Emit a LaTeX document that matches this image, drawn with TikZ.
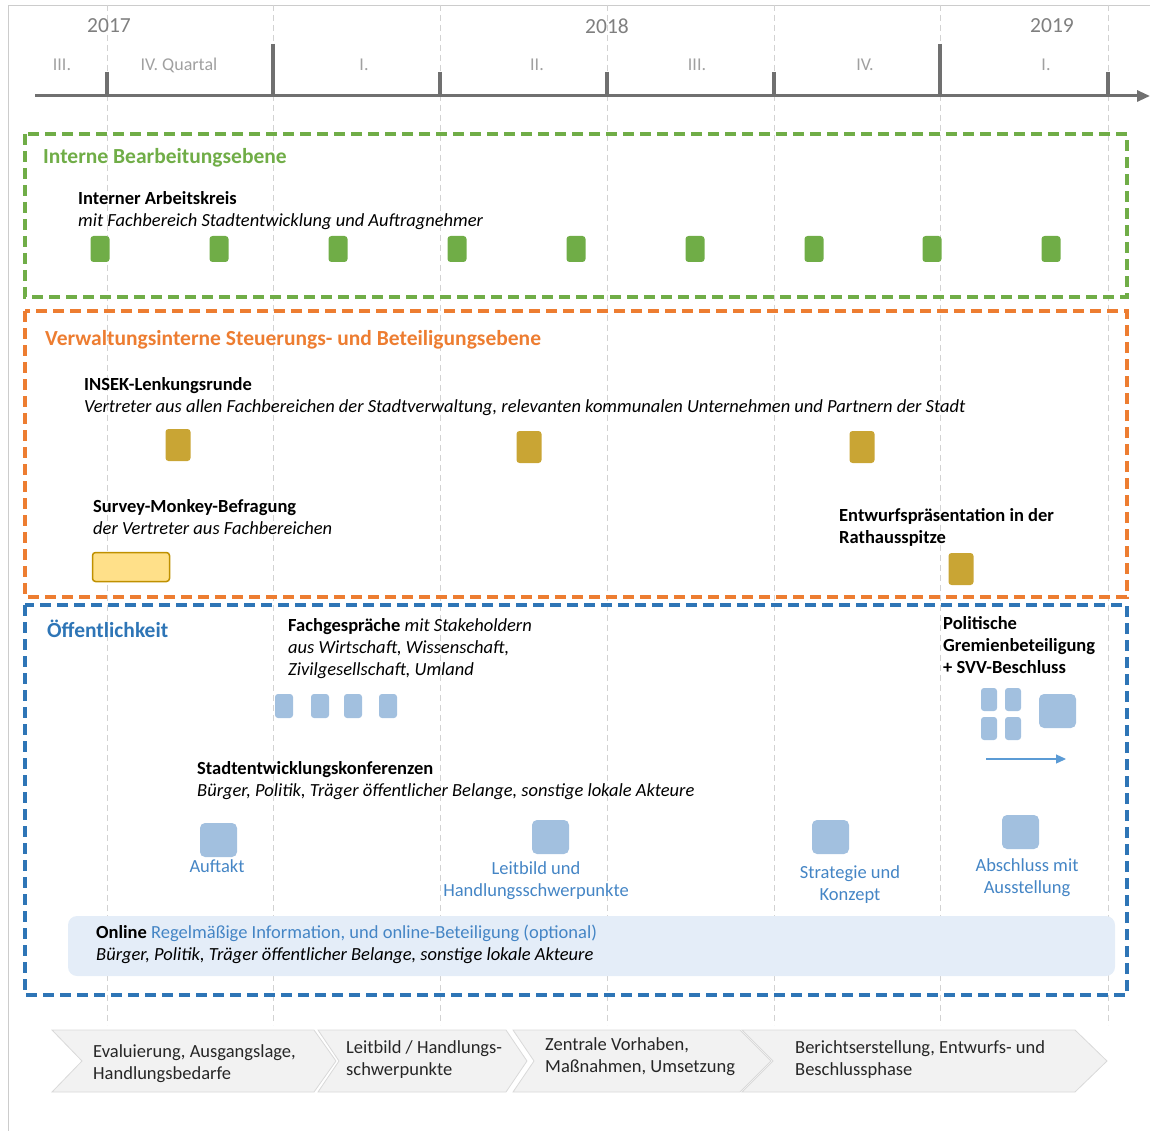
\documentclass[tikz,border=0pt]{standalone}
\usepackage{fontspec}
\setmainfont{Carlito}
\usetikzlibrary{arrows.meta, positioning}

\definecolor{gruen}{RGB}{112,173,71}
\definecolor{orange}{RGB}{237,125,49}
\definecolor{blau}{RGB}{46,117,182}
\definecolor{gold}{RGB}{201,165,52}
\definecolor{goldrand}{RGB}{191,144,0}
\definecolor{hellgelb}{RGB}{255,224,137}
\definecolor{hellblau}{RGB}{162,192,223}
\definecolor{labelblau}{RGB}{68,133,197}
\definecolor{bandblau}{RGB}{228,237,248}
\definecolor{pfeilblau}{RGB}{91,155,213}
\definecolor{achsgrau}{RGB}{112,112,112}
\definecolor{jahrgrau}{RGB}{127,127,127}
\definecolor{quartgrau}{RGB}{160,160,160}
\definecolor{phasegrau}{RGB}{242,242,242}
\definecolor{phaserand}{RGB}{217,217,217}
\definecolor{textgrau}{RGB}{38,38,38}

\begin{document}
\begin{tikzpicture}[
    x=1pt, y=-1pt,
    inner sep=0pt,
    font=\fontsize{18.5}{22}\selectfont
  ]

  % Styles
  \tikzstyle{raster}=[draw=gray!35, line width=0.8pt, dash pattern=on 6pt off 4pt]
  \tikzstyle{ebene}=[line width=3.2pt, dash pattern=on 11pt off 6pt]
  \tikzstyle{strich}=[draw=achsgrau, line width=4pt]
  \tikzstyle{jahr}=[text=jahrgrau, font=\fontsize{21.5}{24}\selectfont]
  \tikzstyle{quartal}=[text=quartgrau, font=\fontsize{18}{22}\selectfont]
  \tikzstyle{titel}=[anchor=north west, font=\fontsize{21.5}{24}\selectfont\bfseries]
  \tikzstyle{info}=[anchor=north west, align=left]
  \tikzstyle{termin}=[rounded corners=3pt, inner sep=0pt]
  \tikzstyle{arbeitskreis}=[termin, fill=gruen, minimum width=19pt, minimum height=26pt]
  \tikzstyle{lenkung}=[termin, fill=gold, minimum width=25pt, minimum height=32pt]
  \tikzstyle{fachgespraech}=[termin, fill=hellblau, minimum width=18pt, minimum height=24pt]
  \tikzstyle{gremium}=[termin, fill=hellblau, minimum width=16pt, minimum height=23pt]
  \tikzstyle{konferenz}=[termin, rounded corners=5pt, fill=hellblau, minimum width=37pt, minimum height=34pt]
  \tikzstyle{konftext}=[anchor=north, align=center, text=labelblau]
  \tikzstyle{phase}=[fill=phasegrau, draw=phaserand, line width=0.8pt]
  \tikzstyle{phasetext}=[anchor=north west, align=left, text=textgrau]

  \useasboundingbox (0,0) rectangle (1150,1131);

  % Frame and grid
  \draw[gray!40, line width=0.8pt] (8,1131) -- (8,5) -- (1150,5);
  \foreach \x in {107,273,440,607,774,940,1108}
    \draw[raster] (\x,5) -- (\x,1025);

  % Timeline
  \coordinate (achseA) at (35,96);
  \coordinate (achseB) at (1150,96);
  \draw[achsgrau, line width=3pt, -{Triangle[length=13pt,width=11pt]}] (achseA) -- (achseB);
  \foreach \x in {107,440,607,774,1108}
    \draw[strich] (\x,72) -- (\x,96);
  \foreach \x in {273,940}
    \draw[strich] (\x,44) -- (\x,96);

  \node[jahr] (j2017) at (109,26) {2017};
  \node[jahr] (j2018) at (607,26) {2018};
  \node[jahr] (j2019) at (1052,26) {2019};

  \node[quartal] (q1) at (62,65) {III.};
  \node[quartal] (q2) at (179,65) {IV. Quartal};
  \node[quartal] (q3) at (364,65) {I.};
  \node[quartal] (q4) at (537,65) {II.};
  \node[quartal] (q5) at (697,65) {III.};
  \node[quartal] (q6) at (865,65) {IV.};
  \node[quartal] (q7) at (1046,65) {I.};

  % Interne Bearbeitungsebene
  \draw[ebene, draw=gruen] (25,134) rectangle (1127,297);
  \node[titel, text=gruen] (intern) at (43,148) {Interne Bearbeitungsebene};
  \node[info] (arbeitskreis) at (78,191)
    {\textbf{Interner Arbeitskreis}\\ \textit{mit Fachbereich Stadtentwicklung und Auftragnehmer}};
  \foreach \x [count=\i] in {100,219,338,457,576,695,814,932,1051}
    \node[arbeitskreis] (ak\i) at (\x,249) {};

  % Verwaltungsinterne Ebene
  \draw[ebene, draw=orange] (25,311) rectangle (1127,597);
  \node[titel, text=orange] (verwaltung) at (45,330) {Verwaltungsinterne Steuerungs- und Beteiligungsebene};
  \node[info] (insek) at (84,377)
    {\textbf{INSEK-Lenkungsrunde}\\ \textit{Vertreter aus allen Fachbereichen der Stadtverwaltung, relevanten kommunalen Unternehmen und Partnern der Stadt}};
  \node[lenkung] (lr1) at (178,445) {};
  \node[lenkung] (lr2) at (529,447) {};
  \node[lenkung] (lr3) at (862,447) {};

  \node[info] (survey) at (93,499)
    {\textbf{Survey-Monkey-Befragung}\\ \textit{der Vertreter aus Fachbereichen}};
  \node[termin, fill=hellgelb, draw=goldrand, line width=1.5pt, minimum width=77pt, minimum height=29pt] (umfrage) at (131,567) {};

  \node[info] (entwurf) at (839,508)
    {\textbf{Entwurfspräsentation in der}\\ \textbf{Rathausspitze}};
  \node[lenkung] (rathaus) at (961,569) {};

  % Oeffentlichkeit
  \draw[ebene, draw=blau] (25,605) rectangle (1127,995);
  \node[titel, text=blau] (oeffentlich) at (47,620) {Öffentlichkeit};

  \node[info] (fachgespraeche) at (288,618)
    {\textbf{Fachgespräche} \textit{mit Stakeholdern}\\ \textit{aus Wirtschaft, Wissenschaft,}\\ \textit{Zivilgesellschaft, Umland}};
  \foreach \x [count=\i] in {284,320,353,388}
    \node[fachgespraech] (fg\i) at (\x,706) {};

  \node[info] (politik) at (943,616)
    {\textbf{Politische}\\ \textbf{Gremienbeteiligung}\\ \textbf{+ SVV-Beschluss}};
  \node[gremium] (gr1) at (989,699.5) {};
  \node[gremium] (gr2) at (1013,699.5) {};
  \node[gremium] (gr3) at (989,728.5) {};
  \node[gremium] (gr4) at (1013,728.5) {};
  \node[konferenz] (svv) at (1057.5,711) {};
  \coordinate (pfeilA) at (986,759);
  \coordinate (pfeilB) at (1066,759);
  \draw[pfeilblau, line width=1.2pt, -{Triangle[length=10pt,width=9pt]}] (pfeilA) -- (pfeilB);

  \node[info] (konferenzen) at (197,761)
    {\textbf{Stadtentwicklungskonferenzen}\\ \textit{Bürger, Politik, Träger öffentlicher Belange, sonstige lokale Akteure}};
  \node[konferenz] (k1) at (218.5,840) {};
  \node[konferenz] (k2) at (550.5,837) {};
  \node[konferenz] (k3) at (830.5,837) {};
  \node[konferenz] (k4) at (1020.5,832) {};
  \node[konftext] (auftakt) at (217,859) {Auftakt};
  \node[konftext] (leitbild) at (536,861) {Leitbild und\\Handlungsschwerpunkte};
  \node[konftext] (strategie) at (850,865) {Strategie und\\Konzept};
  \node[konftext] (abschluss) at (1027,858) {Abschluss mit\\Ausstellung};

  % Online-Beteiligung
  \fill[bandblau, rounded corners=9pt] (68,916) rectangle (1115,976);
  \node[info] (online) at (96,925)
    {\textbf{Online} \textcolor{labelblau}{Regelmäßige Information, und online-Beteiligung (optional)}\\ \textit{Bürger, Politik, Träger öffentlicher Belange, sonstige lokale Akteure}};

  % Phasen
  \draw[phase] (52,1030) -- (314,1030) -- (336,1061) -- (314,1092) -- (52,1092) -- (82,1061) -- cycle;
  \draw[phase] (318,1030) -- (506,1030) -- (527,1061) -- (506,1092) -- (318,1092) -- (339,1061) -- cycle;
  \draw[phase] (513,1030) -- (740,1030) -- (771,1061) -- (740,1092) -- (513,1092) -- (534,1061) -- cycle;
  \draw[phase] (742,1030) -- (1075,1030) -- (1107,1061) -- (1075,1092) -- (742,1092) -- (773,1061) -- cycle;
  \node[phasetext] (ph1) at (93,1044) {Evaluierung, Ausgangslage,\\Handlungsbedarfe};
  \node[phasetext] (ph2) at (346,1040) {Leitbild / Handlungs-\\schwerpunkte};
  \node[phasetext] (ph3) at (545,1037) {Zentrale Vorhaben,\\Maßnahmen, Umsetzung};
  \node[phasetext] (ph4) at (795,1040) {Berichtserstellung, Entwurfs- und\\Beschlussphase};

\end{tikzpicture}
\end{document}
